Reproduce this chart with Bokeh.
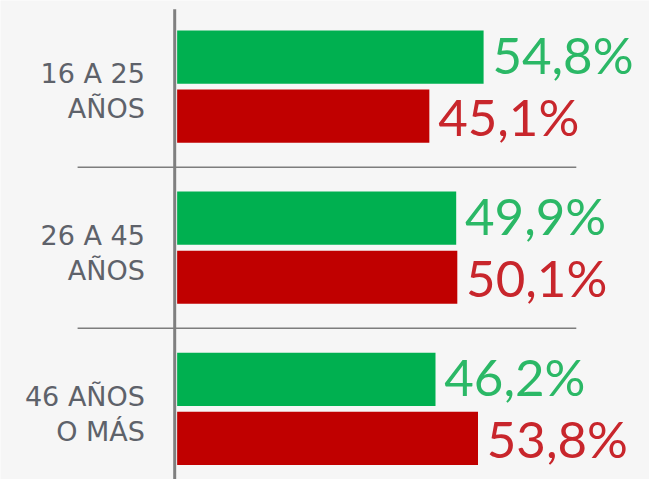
import numpy as np
from bokeh.plotting import figure
from bokeh.models import Range1d, ColumnDataSource
from bokeh.core.properties import value
from bokeh.embed import file_html
from bokeh.resources import INLINE

# ---- data ----
categories = ["16 A 25\nAÑOS", "26 A 45\nAÑOS", "46 AÑOS\nO MÁS"]
green_values = [54.8, 49.9, 46.2]
red_values = [45.1, 50.1, 53.8]

GREEN = "#00b050"
RED = "#c00000"
GREEN_TXT = "#2bb866"
RED_TXT = "#c8262c"
LABEL_TXT = "#5e626a"
BG = "#f6f6f6"

W, H = 649, 479
REF_W, REF_H = 665, 495
scale = W / REF_W

# layout (in reference-pixel space)
px_per_unit = 5.73      # horizontal pixels per percentage point
zero_px = 181           # x pixel of value 0
group_px = 166.5        # vertical spacing between groups
first_px = 89           # y pixel of first group centre

x_range = Range1d(-zero_px / px_per_unit, (REF_W - zero_px) / px_per_unit)
y_range = Range1d(start=(REF_H - first_px) / group_px, end=-first_px / group_px)

def X(px):
    return (px - zero_px) / px_per_unit

def Y(px):
    return (px - first_px) / group_px

p = figure(width=W, height=H, x_range=x_range, y_range=y_range,
           output_backend="svg", toolbar_location=None,
           min_border=0, min_border_left=0, min_border_right=0,
           min_border_top=0, min_border_bottom=0)
p.axis.visible = False
p.grid.visible = False
p.outline_line_color = None
p.background_fill_color = BG
p.border_fill_color = BG

idx = np.arange(len(categories), dtype=float)
d = 30.5 / group_px
bar_h = 55 / group_px

fmt = lambda v: f"{v:.1f}".replace(".", ",") + "%"

g_src = ColumnDataSource(dict(y=idx - d, ty=idx - d - 2.5 / group_px,
                              v=green_values, t=[fmt(v) for v in green_values]))
r_src = ColumnDataSource(dict(y=idx + d, ty=idx + d + 0.5 / group_px,
                              v=red_values, t=[fmt(v) for v in red_values]))

# separators
sep_y = idx[:-1] + 0.5
p.segment(x0=X(79), x1=X(590), y0=sep_y, y1=sep_y,
          line_color="#7d7d7d", line_width=1.5)

# bars
p.hbar(y="y", left=0, right="v", height=bar_h, source=g_src,
       fill_color=GREEN, line_color=None)
p.hbar(y="y", left=0, right="v", height=bar_h, source=r_src,
       fill_color=RED, line_color=None)

# vertical axis line
p.segment(x0=X(178.5), x1=X(178.5), y0=Y(9), y1=y_range.start,
          line_color="#7f7f7f", line_width=3)

# value labels
for src, col in ((g_src, GREEN_TXT), (r_src, RED_TXT)):
    p.text(x="v", y="ty", text="t", source=src, x_offset=9 * scale,
           text_font=value("Lato"), text_font_size="51px",
           text_color=col, text_baseline="middle", text_align="left")

# category labels
c_src = ColumnDataSource(dict(y=idx + 5 / group_px, t=categories))
p.text(x=X(148), y="y", text="t", source=c_src,
       text_font=value("DejaVu Sans"), text_font_size="27px",
       text_color=LABEL_TXT, text_baseline="middle", text_align="right",
       text_line_height=1.13)

html = file_html(p, INLINE)
open("out.html", "w").write(html)
